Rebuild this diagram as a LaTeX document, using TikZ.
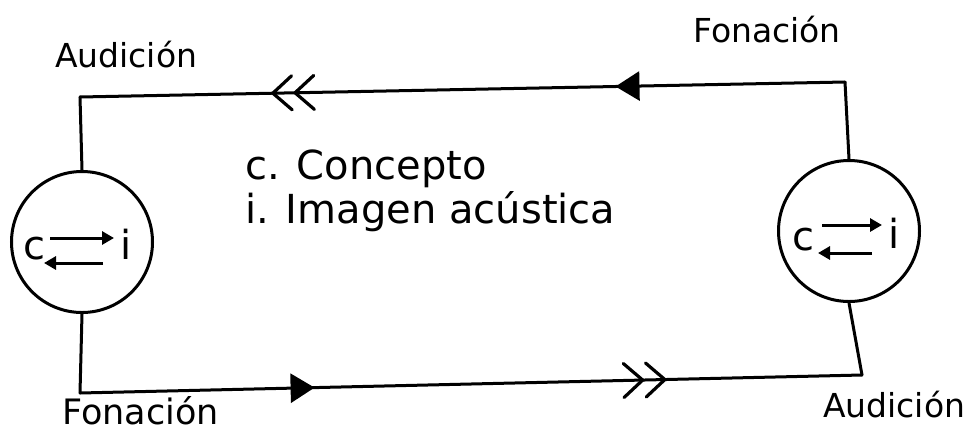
\documentclass[tikz,border=0pt]{standalone}
\usepackage{fontspec}
\setmainfont{DejaVu Sans}
\usetikzlibrary{arrows.meta,decorations.markings}
\begin{document}
\begin{tikzpicture}[x=1pt,y=-1pt,
  wire/.style={line width=3pt, line cap=round, line join=round},
  ring/.style={draw, circle, line width=3pt, minimum size=141pt, inner sep=0pt},
  lbl/.style={font=\fontsize{33}{40}\selectfont, inner sep=0pt, anchor=base west},
  note/.style={font=\fontsize{40}{48}\selectfont, inner sep=0pt, anchor=base west},
  letter/.style={font=\fontsize{40}{46}\selectfont, inner sep=0pt},
  inarrow/.style={line width=3pt, -{Triangle[length=12pt,width=13pt]}},
  flowmarks/.style={postaction={decorate, decoration={markings,
    mark=at position 0.30 with {\arrow{Triangle[length=24pt,width=29pt]}},
    mark=at position 0.75 with {\arrow{Straight Barb[length=19pt,width=34pt,line width=3.2pt,round,sep=0pt] Straight Barb[length=19pt,width=34pt,line width=3.2pt,round,sep=0pt]}}}}}
]
\useasboundingbox (0,0) rectangle (964,432);

% corners
\coordinate (tl) at (80,97);
\coordinate (tr) at (845,82);
\coordinate (bl) at (80,393);
\coordinate (br) at (862,375);

% circles
\node[ring] (lc) at (82,242) {};
\node[ring] (rc) at (849,231) {};

% loop
\draw[wire] (tl) -- (lc.north);
\draw[wire] (lc.south) -- (bl);
\draw[wire] (tr) -- (rc.north);
\draw[wire] (rc.south) -- (br);
\draw[wire, flowmarks] (tr) -- (tl);
\draw[wire, flowmarks] (bl) -- (br);

% inside left circle
\node[letter] (lcc) at (34,249) {c};
\node[letter] (lci) at (126,244) {i};
\coordinate (lt1) at (50,238);
\coordinate (lt2) at (114,238);
\coordinate (lb1) at (103,263);
\coordinate (lb2) at (44,263);
\draw[inarrow] (lt1) -- (lt2);
\draw[inarrow] (lb1) -- (lb2);

% inside right circle
\node[letter] (rcc) at (803,240) {c};
\node[letter] (rci) at (894,233) {i};
\coordinate (rt1) at (822,225);
\coordinate (rt2) at (882,225);
\coordinate (rb1) at (872,253);
\coordinate (rb2) at (818,253);
\draw[inarrow] (rt1) -- (rt2);
\draw[inarrow] (rb1) -- (rb2);

% labels
\node[lbl] (aud1) at (55,67) {Audición};
\node[lbl] (fon1) at (693,42) {Fonación};
\node[lbl, font=\fontsize{35}{42}\selectfont] (fon2) at (62,424) {Fonación};
\node[lbl] (aud2) at (823,417) {Audición};

\node[note] (n1) at (245,179) {c. Concepto};
\node[note] (n2) at (245,223) {i. Imagen acústica};
\end{tikzpicture}
\end{document}
